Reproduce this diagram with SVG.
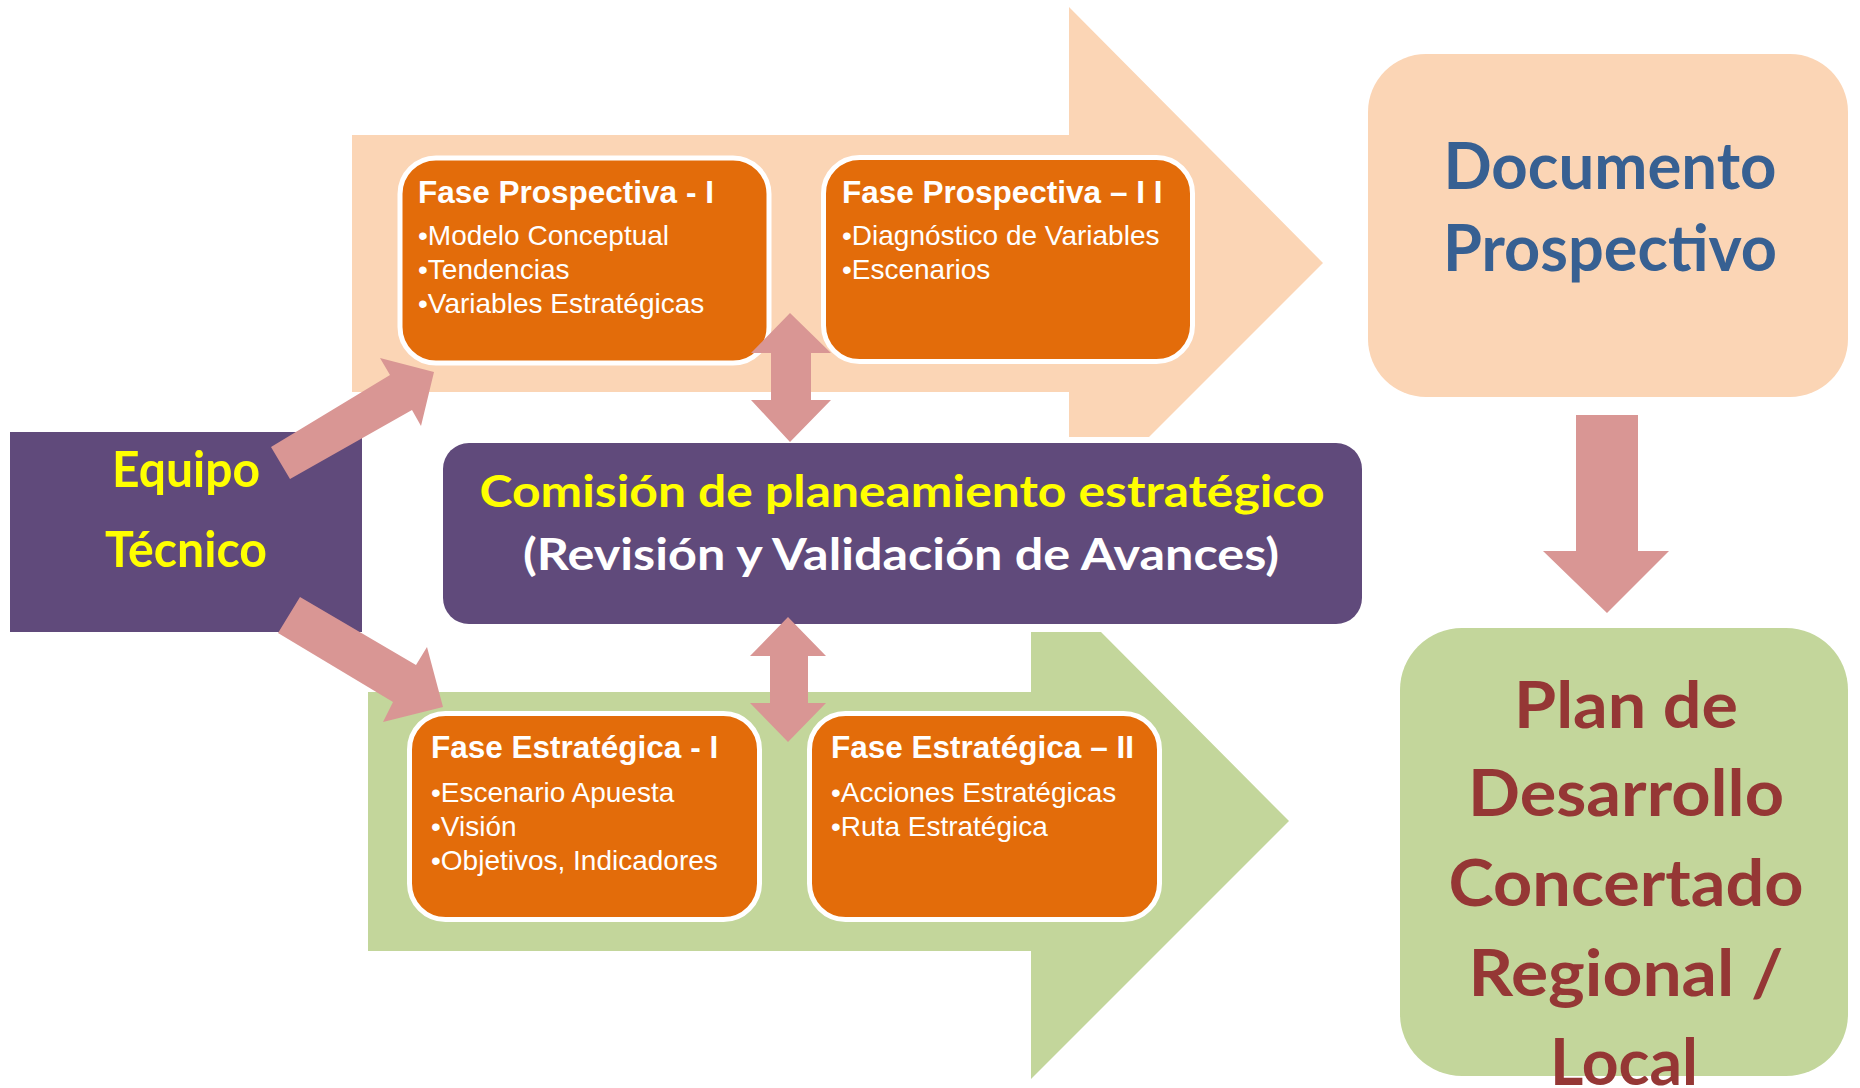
<svg xmlns="http://www.w3.org/2000/svg" width="1860" height="1088" viewBox="0 0 1860 1088">
<style>
.phase{fill:#E36C0A;stroke:#FFFFFF;stroke-width:5}
.ttl{font-family:"Liberation Sans",Arial,sans-serif;font-weight:bold;font-size:31.5px;fill:#FFFFFF}
.blt{font-family:"Liberation Sans",Arial,sans-serif;font-size:28px;fill:#FFFFFF}
.big{font-family:Lato,"Liberation Sans",sans-serif;font-weight:bold;text-anchor:middle}
.pink{fill:#D99694}
</style>
<rect width="1860" height="1088" fill="#FFFFFF"/>
<g id="band-prospectiva">
<polygon points="352,135 1069,135 1069,7 1323,263 1149,437 1069,437 1069,392 352,392" fill="#FBD5B5"/>
</g>
<g id="band-estrategica">
<polygon points="368,692 1031,692 1031,632 1101,632 1289,821 1031,1079 1031,951 368,951" fill="#C3D69B"/>
</g>
<g id="fase-prospectiva-1">
<rect class="phase" x="400" y="158" width="369" height="205" rx="36"/>
<text class="ttl" x="418" y="203">Fase Prospectiva - I</text>
<text class="blt" x="418" y="245">•Modelo Conceptual</text>
<text class="blt" x="418" y="279">•Tendencias</text>
<text class="blt" x="418" y="313">•Variables Estratégicas</text>
</g>
<g id="fase-prospectiva-2">
<rect class="phase" x="823.5" y="157.5" width="369" height="204" rx="36"/>
<text class="ttl" x="842" y="203">Fase Prospectiva – I I</text>
<text class="blt" x="842" y="245">•Diagnóstico de Variables</text>
<text class="blt" x="842" y="279">•Escenarios</text>
</g>
<g id="fase-estrategica-1">
<rect class="phase" x="409.5" y="713.5" width="350" height="206" rx="36"/>
<text class="ttl" x="431" y="758">Fase Estratégica - I</text>
<text class="blt" x="431" y="802">•Escenario Apuesta</text>
<text class="blt" x="431" y="836">•Visión</text>
<text class="blt" x="431" y="870">•Objetivos, Indicadores</text>
</g>
<g id="fase-estrategica-2">
<rect class="phase" x="809.5" y="713.5" width="350" height="206" rx="36"/>
<text class="ttl" x="831" y="758">Fase Estratégica – II</text>
<text class="blt" x="831" y="802">•Acciones Estratégicas</text>
<text class="blt" x="831" y="836">•Ruta Estratégica</text>
</g>
<g id="equipo-tecnico">
<rect x="10" y="432" width="352" height="200" fill="#604A7B"/>
<text class="big" x="186" y="487" font-size="49" fill="#FFFF00" textLength="148" lengthAdjust="spacingAndGlyphs">Equipo</text>
<text class="big" x="186" y="567" font-size="49" fill="#FFFF00" textLength="162" lengthAdjust="spacingAndGlyphs">Técnico</text>
</g>
<g id="comision">
<rect x="443" y="443" width="919" height="181" rx="26" fill="#604A7B"/>
<text class="big" x="902" y="507" font-size="43" fill="#FFFF00" textLength="845" lengthAdjust="spacingAndGlyphs">Comisión de planeamiento estratégico</text>
<text class="big" x="901" y="570" font-size="43" fill="#FFFFFF" textLength="756" lengthAdjust="spacingAndGlyphs">(Revisión y Validación de Avances)</text>
</g>
<g id="documento-prospectivo">
<rect x="1368" y="54" width="480" height="343" rx="58" fill="#FBD5B5"/>
<text class="big" x="1610" y="189" font-size="65" fill="#376092" textLength="333" lengthAdjust="spacingAndGlyphs">Documento</text>
<text class="big" x="1610" y="271" font-size="65" fill="#376092" textLength="334" lengthAdjust="spacingAndGlyphs">Prospectivo</text>
</g>
<g id="plan-desarrollo">
<rect x="1400" y="628" width="448" height="448" rx="62" fill="#C3D69B"/>
<text class="big" x="1626" y="728" font-size="65" fill="#953735" textLength="224" lengthAdjust="spacingAndGlyphs">Plan de</text>
<text class="big" x="1626" y="816" font-size="65" fill="#953735" textLength="316" lengthAdjust="spacingAndGlyphs">Desarrollo</text>
<text class="big" x="1626" y="906" font-size="65" fill="#953735" textLength="355" lengthAdjust="spacingAndGlyphs">Concertado</text>
<text class="big" x="1626" y="996" font-size="65" fill="#953735" textLength="315" lengthAdjust="spacingAndGlyphs">Regional /</text>
<text class="big" x="1624" y="1085" font-size="65" fill="#953735" textLength="148" lengthAdjust="spacingAndGlyphs">Local</text>
</g>
<g id="connectors">
<polygon class="pink" points="271,447 390,375 380,358 434,372 421,426 412,410 290,479"/>
<polygon class="pink" points="300,597 416,665 427,647 443,707 383,722 393,702 278,633"/>
<polygon class="pink" points="790,313 831,353 811,353 811,400 831,400 790,442 751,400 771,400 771,353 751,353"/>
<polygon class="pink" points="788,617 826,656 808,656 808,703 826,703 788,742 750,703 770,703 770,656 750,656"/>
<polygon class="pink" points="1576,415 1638,415 1638,551 1669,551 1607,613 1543,551 1576,551"/>
</g>
</svg>
